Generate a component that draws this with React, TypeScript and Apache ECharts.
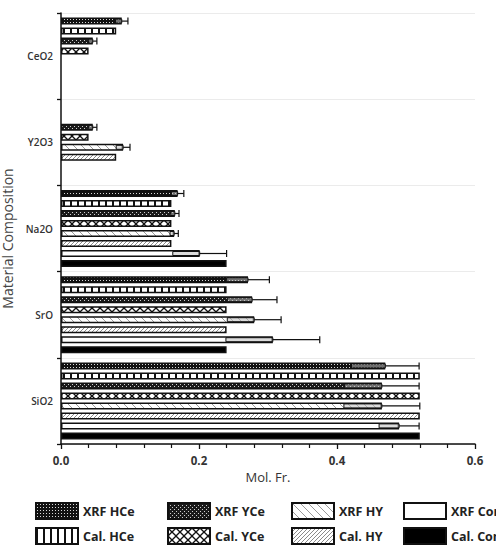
import React, { useEffect, useRef } from 'react';
import * as echarts from 'echarts';

const categories = ['CeO2', 'Y2O3', 'Na2O', 'SrO', 'SiO2'];
const seriesNames = ['XRF HCe', 'Cal. HCe', 'XRF YCe', 'Cal. YCe', 'XRF HY', 'Cal. HY', 'XRF Com', 'Cal. Com'];

const xrfHCe = [0.088, null, 0.169, 0.271, 0.470];
const xrfHCeErr = [0.009, null, 0.009, 0.031, 0.049];
const calHCe = [0.080, null, 0.160, 0.240, 0.520];
const xrfYCe = [0.046, 0.046, 0.165, 0.277, 0.465];
const xrfYCeErr = [0.006, 0.006, 0.006, 0.036, 0.054];
const calYCe = [0.040, 0.040, 0.160, 0.240, 0.520];
const xrfHY = [null, 0.090, 0.164, 0.280, 0.465];
const xrfHYErr = [null, 0.010, 0.006, 0.039, 0.055];
const calHY = [null, 0.080, 0.160, 0.240, 0.520];
const xrfCom = [null, null, 0.201, 0.307, 0.490];
const xrfComErr = [null, null, 0.039, 0.068, 0.029];
const calCom = [null, null, 0.240, 0.240, 0.520];

const xTicks = [0, 0.2, 0.4, 0.6];

const BW = 7;
const GAP = 3;

function tile(size: number, draw: (ctx: CanvasRenderingContext2D, s: number) => void) {
  const c = document.createElement('canvas');
  c.width = size;
  c.height = size;
  const ctx = c.getContext('2d')!;
  draw(ctx, size);
  return { image: c.toDataURL(), repeat: 'repeat', imageWidth: size, imageHeight: size } as any;
}

function makePatterns() {
  const dense = tile(3, (ctx) => {
    ctx.fillStyle = '#111';
    ctx.fillRect(0, 0, 3, 3);
    ctx.fillStyle = '#d8d8d8';
    ctx.fillRect(1, 1, 1, 1);
  });
  const vlines = tile(7, (ctx) => {
    ctx.fillStyle = '#fff';
    ctx.fillRect(0, 0, 7, 7);
    ctx.fillStyle = '#111';
    ctx.fillRect(0, 0, 2, 7);
  });
  const dots = tile(4, (ctx) => {
    ctx.fillStyle = '#1a1a1a';
    ctx.fillRect(0, 0, 4, 4);
    ctx.fillStyle = '#cfcfcf';
    ctx.fillRect(0, 0, 1, 1);
    ctx.fillRect(2, 2, 1, 1);
  });
  const cross = tile(8, (ctx) => {
    ctx.fillStyle = '#fff';
    ctx.fillRect(0, 0, 8, 8);
    ctx.strokeStyle = '#111';
    ctx.lineWidth = 1.3;
    for (const o of [-8, 0, 8]) {
      ctx.beginPath();
      ctx.moveTo(o - 1, -1);
      ctx.lineTo(o + 9, 9);
      ctx.stroke();
      ctx.beginPath();
      ctx.moveTo(o + 9, -1);
      ctx.lineTo(o - 1, 9);
      ctx.stroke();
    }
  });
  const back = tile(8, (ctx) => {
    ctx.fillStyle = '#fff';
    ctx.fillRect(0, 0, 8, 8);
    ctx.strokeStyle = '#9a9a9a';
    ctx.lineWidth = 1;
    for (const o of [-8, 0, 8]) {
      ctx.beginPath();
      ctx.moveTo(o - 1, -1);
      ctx.lineTo(o + 9, 9);
      ctx.stroke();
    }
  });
  const fwd = tile(4, (ctx) => {
    ctx.fillStyle = '#fff';
    ctx.fillRect(0, 0, 4, 4);
    ctx.strokeStyle = '#8a8a8a';
    ctx.lineWidth = 1;
    for (const o of [-4, 0, 4]) {
      ctx.beginPath();
      ctx.moveTo(o - 1, 5);
      ctx.lineTo(o + 5, -1);
      ctx.stroke();
    }
  });
  return [dense, vlines, dots, cross, back, fwd, '#ffffff', '#000000'];
}

export default function App() {
  const ref = useRef<HTMLDivElement>(null);

  useEffect(() => {
    if (!ref.current) return;
    const chart = echarts.init(ref.current, null, { renderer: 'svg' });
    const fills = makePatterns();
    const values = [xrfHCe, calHCe, xrfYCe, calYCe, xrfHY, calHY, xrfCom, calCom];
    const errs: (number | null)[][] = [xrfHCeErr, [], xrfYCeErr, [], xrfHYErr, [], xrfComErr, []];

    const errData: number[][] = [];
    errs.forEach((arr, si) => {
      arr.forEach((e, ci) => {
        const v = values[si][ci];
        if (e != null && v != null) errData.push([ci, v, e, si]);
      });
    });

    const barSeries = seriesNames.map((name, i) => ({
      name,
      type: 'bar',
      barWidth: BW,
      barGap: (GAP / BW) * 100 + '%',
      data: values[i].map((v) => (v == null ? '-' : v)),
      itemStyle: { color: fills[i], borderColor: '#111', borderWidth: 1.5 },
      z: 2,
    }));

    const legendPos = [
      [35, 502], [35, 527], [167, 502], [167, 527], [291, 502], [291, 527], [403, 502], [403, 527],
    ];

    const option: any = {
      animation: false,
      backgroundColor: '#ffffff',
      grid: { left: 61, right: 21, top: 13, bottom: 114, containLabel: false, outerBoundsMode: 'none' },
      legend: seriesNames.map((name, i) => ({
        data: [name],
        left: legendPos[i][0],
        top: legendPos[i][1],
        padding: 0,
        icon: 'rect',
        itemWidth: 42,
        itemHeight: 16,
        selectedMode: false,
        itemStyle: { borderColor: '#111', borderWidth: 2 },
        textStyle: { fontFamily: 'Open Sans', fontWeight: 'bold', fontSize: 12.5, color: '#222' },
      })),
      xAxis: {
        type: 'value',
        min: 0,
        max: 0.6,
        interval: 0.2,
        name: 'Mol. Fr.',
        nameLocation: 'middle',
        nameGap: 22,
        nameTextStyle: { fontFamily: 'Open Sans', fontSize: 13, color: '#333' },
        axisLine: { show: true, lineStyle: { color: '#111', width: 1.5 } },
        axisTick: { show: true, length: 5, lineStyle: { color: '#111', width: 1.3 } },
        minorTick: { show: true, splitNumber: 5, length: 4, lineStyle: { color: '#111', width: 1.2 } },
        splitLine: { show: false },
        axisLabel: {
          fontFamily: 'Open Sans',
          fontWeight: 'bold',
          fontSize: 11.5,
          color: '#333',
          margin: 10,
          formatter: (v: number) => (xTicks.some((t) => Math.abs(t - v) < 1e-9) ? v.toFixed(1) : ''),
        },
      },
      yAxis: {
        type: 'category',
        inverse: true,
        data: categories,
        name: 'Material Composition',
        nameLocation: 'middle',
        nameGap: 47,
        nameTextStyle: { fontFamily: 'Open Sans', fontSize: 14, lineHeight: 14, color: '#444', padding: [0, 20, 0, 0] },
        axisLine: { show: true, lineStyle: { color: '#111', width: 1.5 } },
        axisTick: { show: true, length: 4, lineStyle: { color: '#111', width: 1.3 } },
        splitLine: { show: true, lineStyle: { color: '#ebebeb', width: 1 } },
        axisLabel: { fontFamily: 'Open Sans', fontWeight: 600, fontSize: 10, color: '#333', margin: 8 },
      },
      series: [
        ...barSeries,
        {
          type: 'custom',
          name: 'errors',
          data: errData,
          encode: { x: 1, y: 0 },
          z: 5,
          renderItem: (params: any, api: any) => {
            const cat = api.value(0);
            const v = api.value(1);
            const e = api.value(2);
            const si = api.value(3);
            const c = api.coord([v, cat]);
            const lo = api.coord([v - e, cat])[0];
            const hi = api.coord([v + e, cat])[0];
            const mid = c[0];
            const total = 8 * BW + 7 * GAP;
            const y = c[1] - total / 2 + si * (BW + GAP) + BW / 2;
            return {
              type: 'group',
              children: [
                {
                  type: 'rect',
                  shape: { x: lo, y: y - 2, width: mid - lo, height: 4 },
                  style: { fill: 'rgba(190,190,190,0.55)', stroke: '#111', lineWidth: 1 },
                },
                { type: 'line', shape: { x1: mid, y1: y, x2: hi, y2: y }, style: { stroke: '#111', lineWidth: 1.2 } },
                { type: 'line', shape: { x1: hi, y1: y - 3.5, x2: hi, y2: y + 3.5 }, style: { stroke: '#111', lineWidth: 1.2 } },
              ],
            };
          },
        },
      ],
    };
    chart.setOption(option);
    return () => chart.dispose();
  }, []);

  return <div ref={ref} style={{ position: 'absolute', left: 0, top: 0, width: 496, height: 558, background: '#fff' }} />;
}
